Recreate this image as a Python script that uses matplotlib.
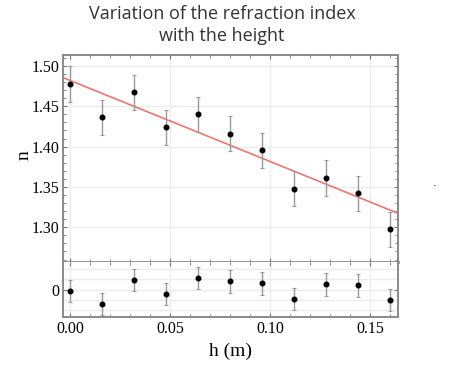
import matplotlib
matplotlib.use("Agg")
import matplotlib.pyplot as plt
from matplotlib.ticker import MultipleLocator
import numpy as np

# Data
h = [0.000, 0.016, 0.032, 0.048, 0.064, 0.080, 0.096, 0.112, 0.128, 0.144, 0.160]
n_vals = [1.4777, 1.4363, 1.4674, 1.4239, 1.4401, 1.4160, 1.3953, 1.3479, 1.3611, 1.3421, 1.2975]
n_err = [0.022] * 11
residuals = [-0.0033, -0.0287, 0.0187, -0.0087, 0.0233, 0.0160, 0.0120, -0.0187, 0.0100, 0.0080, -0.0213]
res_err = [0.022] * 11
fit_intercept = 1.4821
fit_slope = -1.005
x_ticks = [0.00, 0.05, 0.10, 0.15]
x_ticklabels = ["0.00", "0.05", "0.10", "0.15"]
y_ticks = [1.30, 1.35, 1.40, 1.45, 1.50]
y_ticklabels = ["1.30", "1.35", "1.40", "1.45", "1.50"]

W, H = 454, 367
fig = plt.figure(figsize=(W / 100, H / 100), dpi=100)

serif = "Liberation Serif"
tick_fs = 11.5

def fx(px):
    return px / W

def fy(py):
    return 1 - py / H

left, right = 63.3, 397.7
top, mid, bottom = 55, 261.7, 317.3

ax = fig.add_axes([fx(left), fy(mid), fx(right - left), (mid - top) / H])
axr = fig.add_axes([fx(left), fy(bottom), fx(right - left), (bottom - mid) / H], sharex=ax)

xlim = (-0.00335, 0.16385)

spine_col = "#8a8a8a"
grid_col = "#ececec"

for a in (ax, axr):
    for s in a.spines.values():
        s.set_color(spine_col)
        s.set_linewidth(1.4)
    a.set_axisbelow(True)
    a.tick_params(which="both", direction="in", color="#777777", top=True, right=True,
                  labelsize=tick_fs, pad=2.5)
    a.tick_params(which="major", length=3, width=0.8)
    a.tick_params(which="minor", length=2, width=0.6)

# main panel
ax.errorbar(h, n_vals, yerr=n_err, fmt="o", color="black", ms=3.3,
            ecolor="#9a9a9a", elinewidth=1.0, capsize=1.5, capthick=0.8, zorder=3)
xs = np.array(xlim)
ax.plot(xs, fit_intercept + fit_slope * xs, color="#f07470", lw=1.2, zorder=2)
ax.set_xlim(*xlim)
ax.set_ylim(1.2573, 1.5136)
ax.set_yticks(y_ticks)
ax.set_yticklabels(y_ticklabels, fontfamily=serif, fontsize=tick_fs)
ax.yaxis.set_minor_locator(MultipleLocator(0.01))
ax.xaxis.set_minor_locator(MultipleLocator(0.01))
ax.grid(True, which="major", color=grid_col, lw=1.0)
ax.tick_params(labelbottom=False)
ax.set_ylabel("n", fontfamily=serif, fontsize=14)
ax.yaxis.set_label_coords((33 - left) / (right - left), (mid - 155) / (mid - top))
ax.spines["bottom"].set_linewidth(2.0)
ax.spines["bottom"].set_color("#8a8a8a")

# residual panel
axr.errorbar(h, residuals, yerr=res_err, fmt="o", color="black", ms=3.3,
             ecolor="#9a9a9a", elinewidth=1.0, capsize=1.5, capthick=0.8, zorder=3)
axr.set_ylim(-0.055, 0.055)
axr.set_yticks([0])
axr.set_yticklabels(["0"], fontfamily=serif, fontsize=tick_fs)
axr.yaxis.set_minor_locator(MultipleLocator(0.02))
axr.grid(True, which="major", color=grid_col, lw=1.0)
axr.grid(True, which="minor", axis="y", color=grid_col, lw=1.0)
axr.spines["top"].set_visible(False)
axr.set_xticks(x_ticks)
axr.set_xticklabels(x_ticklabels, fontfamily=serif, fontsize=tick_fs)
axr.tick_params(axis="y", which="minor", length=0)
axr.set_xlabel("h (m)", fontfamily=serif, fontsize=14, labelpad=4)

fig.text(fx(222), fy(25), "Variation of the refraction index\nwith the height",
         ha="center", va="center", fontfamily="Open Sans", fontsize=13,
         color="#333333", linespacing=1.35)

fig.text(fx(435), fy(188), ".", ha="center", va="bottom", fontsize=8, color="black")

fig.savefig("out.png", dpi=100)
